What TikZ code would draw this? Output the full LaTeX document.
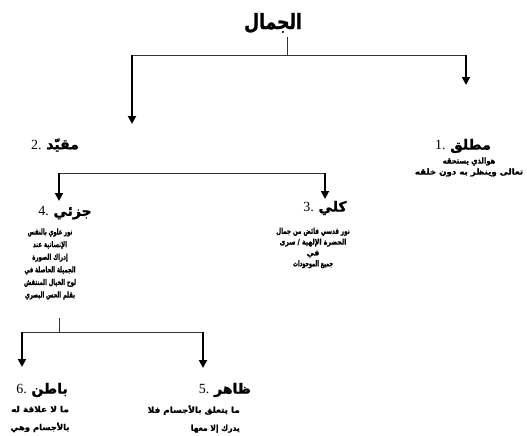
\documentclass[tikz,border=0pt]{standalone}
\usepackage{graphicx}
\usepackage{fontspec}
\setmainfont{Liberation Serif}
\newfontfamily\arabicfont[Script=Arabic,BoldFeatures={FakeBold=1.3}]{DejaVu Sans}
\TeXXeTstate=1
\usetikzlibrary{arrows.meta}
\newcommand{\artxt}[1]{{\arabicfont\bfseries\beginR #1\endR}}
\newcommand{\arl}[2][1]{\scalebox{#1}[1]{\artxt{#2}}}
\begin{document}
\begin{tikzpicture}[x=1pt,y=-1pt,
  thinline/.style={draw=black!80,line width=0.9pt},
  arrline/.style={draw=black,line width=1.8pt,-{Triangle[width=8pt,length=8pt]}},
  titlestyle/.style={inner sep=0pt,font=\fontsize{21}{24}\selectfont},
  headstyle/.style={inner sep=0pt,font=\fontsize{14}{16}\selectfont},
  bodystyle/.style={inner sep=0pt,align=center}]
\useasboundingbox (0,0) rectangle (527,436);
% texts
\node[titlestyle] (title) at (273,23) {\arl[0.82]{الجمال}};
\node[headstyle] (h1) at (463,146) {1. \artxt{مطلق}};
\node[bodystyle,font=\fontsize{8}{11}\selectfont] (t1) at (469,167) {\arl[0.85]{هوالذي يستحقه}\\\arl[1.08]{تعالى وينظر به دون خلقه}};
\node[headstyle] (h2) at (55,145) {2. \artxt{مقيّد}};
\node[headstyle] (h3) at (325,208) {3. \artxt{كلي}};
\node[bodystyle,font=\fontsize{8}{10.8}\selectfont] (t3) at (313,248) {\arl[0.7]{نور قدسي فائض من جمال}\\\arl[0.78]{الحضرة الإلهية / سرى}\\\arl[0.95]{في}\\\arl[0.62]{جميع الموجودات}};
\node[headstyle] (h4) at (65,213) {4. \artxt{جزئي}};
\node[bodystyle,font=\fontsize{8}{12.6}\selectfont] (t4) at (50,264) {\arl[0.65]{نور علوي بالنفس}\\\arl[0.68]{الإنسانية عند}\\\arl[0.68]{إدراك الصورة}\\\arl[0.66]{الجميلة الحاصلة في}\\\arl[0.66]{لوح الخيال المنتقش}\\\arl[0.66]{بقلم الحس البصري}};
\node[headstyle] (h5) at (225,390) {5. \artxt{ظاهر}};
\node[bodystyle,align=right,anchor=east,font=\fontsize{8}{18}\selectfont] (t5) at (240,419) {\arl[1.1]{ما يتعلق بالأجسام فلا}\\\arl[0.95]{يدرك إلا معها}};
\node[bodystyle,font=\fontsize{8}{18}\selectfont] (t6) at (40,419) {\arl[1.12]{ما لا علاقة له}\\\arl[1.05]{بالأجسام وهي}};
\node[headstyle] (h6) at (42,390) {6. \artxt{باطن}};
% junction coordinates
\coordinate (ts) at (287,37);
\coordinate (j0) at (287,55);
\coordinate (jl) at (132,55);
\coordinate (jr) at (466,55);
\coordinate (al) at (132,124);
\coordinate (ar) at (466,85);
\coordinate (k0) at (59,173);
\coordinate (kr) at (325,173);
\coordinate (ak4) at (59,201);
\coordinate (ak3) at (325,199);
\coordinate (m0) at (59,318);
\coordinate (m1) at (59,332);
\coordinate (ml) at (22,332);
\coordinate (mr) at (203,332);
\coordinate (am6) at (22,367);
\coordinate (am5) at (203,368);
% connectors
\draw[thinline] (ts) -- (j0);
\draw[thinline] (jl) -- (jr);
\draw[arrline] (jl) -- (al);
\draw[arrline] (jr) -- (ar);
\draw[thinline] (k0) -- (kr);
\draw[arrline] (k0) -- (ak4);
\draw[arrline] (kr) -- (ak3);
\draw[thinline] (m0) -- (m1);
\draw[thinline] (ml) -- (mr);
\draw[arrline] (ml) -- (am6);
\draw[arrline] (mr) -- (am5);
\end{tikzpicture}
\end{document}
